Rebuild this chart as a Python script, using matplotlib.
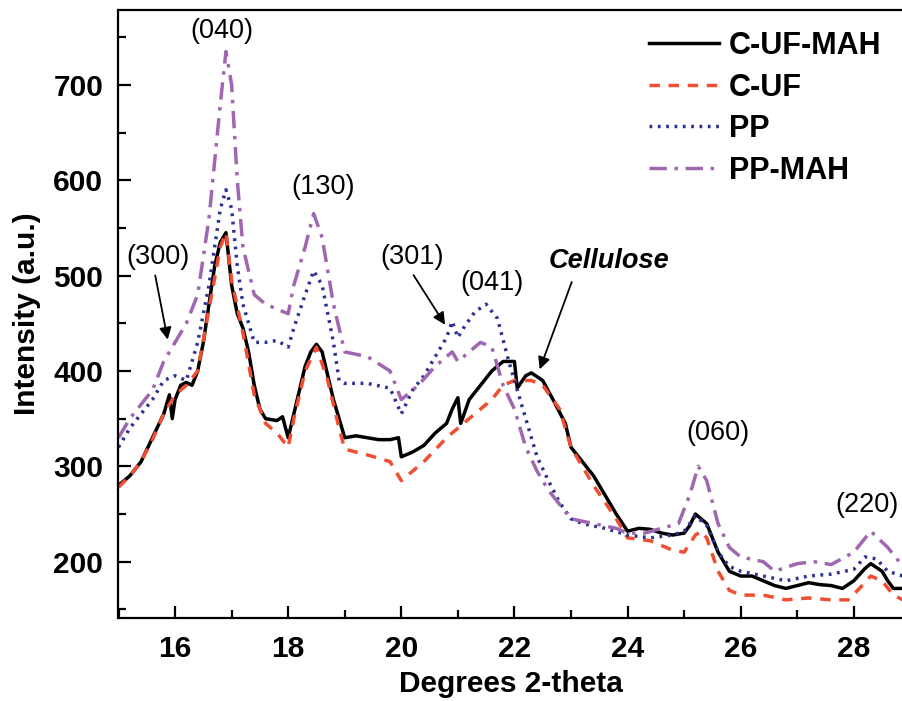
import numpy as np
import matplotlib
matplotlib.use("Agg")
import matplotlib.pyplot as plt
from matplotlib.ticker import MultipleLocator

plt.rcParams['font.family'] = ['Liberation Sans', 'DejaVu Sans']

x_cufmah = [15.0, 15.2, 15.4, 15.6, 15.8, 15.9, 15.95, 16.0, 16.1, 16.2, 16.3, 16.4, 16.5, 16.6,
            16.7, 16.8, 16.9, 17.0, 17.1, 17.2, 17.3, 17.4, 17.5, 17.6, 17.8, 17.9, 18.0, 18.1,
            18.2, 18.3, 18.4, 18.5, 18.6, 18.7, 18.8, 18.9, 19.0, 19.2, 19.4, 19.6, 19.8, 19.95,
            20.0, 20.2, 20.4, 20.6, 20.8, 20.9, 21.0, 21.05, 21.2, 21.4, 21.6, 21.8, 22.0, 22.05,
            22.2, 22.3, 22.5, 22.7, 22.9, 23.0, 23.2, 23.4, 23.6, 23.8, 24.0, 24.2, 24.4, 24.6,
            24.8, 25.0, 25.1, 25.2, 25.4, 25.6, 25.8, 26.0, 26.2, 26.4, 26.6, 26.8, 27.0, 27.2,
            27.4, 27.6, 27.8, 28.0, 28.2, 28.3, 28.5, 28.6, 28.7, 28.87]
y_cufmah = [280, 290, 305, 330, 355, 375, 350, 370, 385, 388, 385, 400, 430, 470,
            510, 535, 545, 490, 460, 445, 420, 385, 360, 350, 348, 352, 330, 355,
            380, 405, 420, 428, 420, 395, 370, 350, 330, 332, 330, 328, 328, 330,
            310, 315, 322, 335, 345, 360, 372, 345, 370, 385, 400, 410, 410, 382,
            395, 398, 390, 368, 345, 320, 305, 290, 270, 250, 232, 235, 234, 230,
            228, 230, 238, 250, 240, 210, 190, 185, 185, 180, 175, 172, 175, 178,
            176, 175, 172, 180, 193, 198, 190, 180, 172, 172]

x_cuf = [15.0, 15.2, 15.4, 15.6, 15.8, 16.0, 16.2, 16.4, 16.6, 16.8, 16.9, 17.0, 17.2, 17.4,
         17.6, 17.8, 18.0, 18.1, 18.3, 18.5, 18.7, 18.9, 19.0, 19.4, 19.8, 20.0, 20.4, 20.8,
         21.0, 21.2, 21.6, 21.8, 22.0, 22.3, 22.5, 22.8, 23.0, 23.4, 23.8, 24.0, 24.4, 24.8,
         25.0, 25.2, 25.3, 25.4, 25.6, 25.8, 26.0, 26.4, 26.8, 27.2, 27.6, 27.9, 28.1, 28.3,
         28.5, 28.7, 28.87]
y_cuf = [278, 290, 305, 328, 355, 375, 385, 400, 465, 530, 545, 495, 440, 375,
         345, 335, 320, 350, 400, 425, 390, 340, 318, 312, 305, 285, 305, 330,
         340, 350, 370, 385, 390, 390, 385, 360, 320, 280, 245, 225, 222, 212,
         210, 228, 232, 225, 190, 170, 165, 165, 160, 162, 160, 160, 172, 185,
         180, 165, 160]

x_pp = [15.0, 15.2, 15.4, 15.6, 15.8, 16.0, 16.2, 16.4, 16.6, 16.8, 16.9, 17.0, 17.1, 17.2,
        17.4, 17.6, 17.8, 18.0, 18.1, 18.3, 18.45, 18.6, 18.8, 18.9, 19.0, 19.4, 19.8, 20.0,
        20.2, 20.4, 20.6, 20.8, 20.9, 21.0, 21.1, 21.3, 21.5, 21.7, 21.9, 22.0, 22.2, 22.4,
        22.6, 22.8, 23.0, 23.2, 23.6, 24.0, 24.4, 24.8, 25.0, 25.2, 25.4, 25.6, 25.8, 26.0,
        26.4, 26.8, 27.2, 27.6, 28.0, 28.2, 28.4, 28.6, 28.87]
y_pp = [320, 340, 355, 370, 390, 395, 390, 430, 490, 570, 590, 570, 510, 470,
        430, 430, 432, 425, 445, 480, 505, 490, 430, 390, 387, 387, 382, 355,
        380, 395, 415, 435, 452, 435, 445, 462, 470, 455, 410, 390, 350, 310,
        285, 262, 245, 240, 235, 228, 225, 228, 232, 248, 238, 210, 195, 190,
        185, 180, 185, 187, 192, 205, 203, 190, 185]

x_ppmah = [15.0, 15.2, 15.4, 15.6, 15.8, 16.0, 16.2, 16.4, 16.6, 16.8, 16.9, 17.0, 17.1, 17.2,
           17.4, 17.6, 17.8, 18.0, 18.1, 18.3, 18.45, 18.6, 18.8, 19.0, 19.4, 19.8, 20.0, 20.3,
           20.6, 20.9, 21.0, 21.2, 21.4, 21.6, 21.8, 22.0, 22.2, 22.4, 22.6, 22.8, 23.0, 23.4,
           23.8, 24.0, 24.3, 24.6, 24.9, 25.1, 25.25, 25.4, 25.6, 25.8, 26.0, 26.4, 26.6, 27.0,
           27.3, 27.6, 28.0, 28.3, 28.6, 28.87]
y_ppmah = [330, 350, 365, 380, 410, 430, 450, 480, 560, 680, 735, 700, 600, 530,
           480, 470, 465, 460, 490, 530, 565, 540, 470, 420, 415, 400, 370, 385,
           405, 420, 410, 420, 430, 425, 385, 360, 320, 295, 275, 260, 245, 240,
           235, 230, 230, 235, 240, 270, 300, 285, 240, 215, 205, 200, 190, 198,
           200, 197, 210, 232, 215, 195]

series = [
    (x_cufmah, y_cufmah, 'C-UF-MAH', 'black', '-'),
    (x_cuf, y_cuf, 'C-UF', '#F04E30', (0, (3, 2.5))),
    (x_pp, y_pp, 'PP', '#2E3192', (0, (0.8, 1.6))),
    (x_ppmah, y_ppmah, 'PP-MAH', '#A066B0', (0, (5, 2.2, 1, 2.2))),
]

fig = plt.figure(figsize=(9.03, 7.01), dpi=100)
ax = fig.add_axes([118.5 / 903, 83 / 701, 1 - 118.5 / 903, 608.5 / 701])

for x, y, lab, col, ls in series:
    ax.plot(x, y, color=col, linestyle=ls, linewidth=2.5, label=lab)

ax.set_xlim(15, 28.87)
ax.set_ylim(141, 779)
ax.xaxis.set_major_locator(MultipleLocator(2))
ax.xaxis.set_minor_locator(MultipleLocator(1))
ax.yaxis.set_major_locator(MultipleLocator(100))
ax.yaxis.set_minor_locator(MultipleLocator(50))
ax.tick_params(which='both', direction='in', width=1.6, labelsize=21.5)
ax.tick_params(which='major', length=9)
ax.tick_params(which='minor', length=6)
ax.tick_params(axis='x', pad=12)
ax.tick_params(axis='y', pad=11)
for lbl in ax.get_xticklabels() + ax.get_yticklabels():
    lbl.set_fontweight('bold')
ax.spines['right'].set_visible(False)
for s in ['left', 'bottom', 'top']:
    ax.spines[s].set_linewidth(1.6)

ax.set_xlabel('Degrees 2-theta', fontsize=21.5, fontweight='bold', labelpad=5)
ax.set_ylabel('Intensity (a.u.)', fontsize=21.5, fontweight='bold', labelpad=9)

# anotaciones de planos
fs = 19.5
ax.text(16.83, 756, '(040)', fontsize=fs, ha='center', va='center')
ax.text(18.62, 593, '(130)', fontsize=fs, ha='center', va='center')
ax.text(15.7, 519, '(300)', fontsize=fs, ha='center', va='center')
ax.text(20.2, 519, '(301)', fontsize=fs, ha='center', va='center')
ax.text(21.6, 492, '(041)', fontsize=fs, ha='center', va='center')
ax.text(25.6, 335, '(060)', fontsize=fs, ha='center', va='center')
ax.text(28.24, 260, '(220)', fontsize=fs, ha='center', va='center')
ax.text(23.68, 515, 'Cellulose', fontsize=fs, ha='center', va='center',
        fontweight='bold', style='italic')

arrow = dict(arrowstyle='-|>', color='black', lw=1.3, mutation_scale=18)
ax.annotate('', xy=(15.88, 430), xytext=(15.64, 503), arrowprops=arrow)
ax.annotate('', xy=(20.8, 446), xytext=(20.19, 503), arrowprops=arrow)
ax.annotate('', xy=(22.43, 399), xytext=(23.03, 496), arrowprops=arrow)

leg = ax.legend(loc='upper right', bbox_to_anchor=(1.0, 1.0), frameon=False,
                prop={'weight': 'bold', 'size': 22}, handlelength=2.3,
                handletextpad=0.33, labelspacing=0.38, borderaxespad=0.3)

fig.savefig('out.png', dpi=100)
